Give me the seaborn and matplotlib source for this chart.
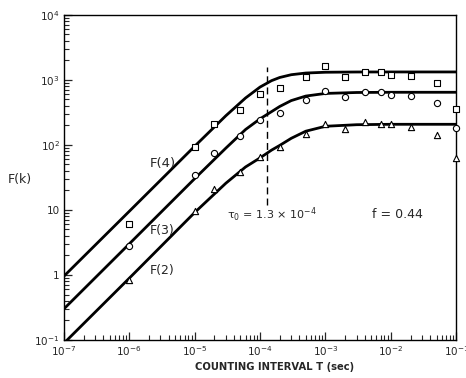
import matplotlib.pyplot as plt
import matplotlib.ticker as mticker
import seaborn as sns

# measured points, counting interval T (sec)
t_points = [1e-6, 1e-5, 2e-5, 5e-5, 1e-4, 2e-4, 5e-4, 1e-3, 2e-3, 4e-3, 7e-3, 1e-2, 2e-2, 5e-2, 1e-1]
f4_points = [6.0, 92, 210, 342, 603, 735, 1120, 1640, 1120, 1340, 1310, 1190, 1150, 890, 350]
f3_points = [2.8, 35, 76, 135, 240, 314, 490, 684, 535, 653, 645, 582, 573, 447, 181]
f2_points = [0.84, 9.7, 21, 38, 65, 92, 148, 208, 176, 226, 210, 208, 190, 143, 62]

# theoretical curves
t_curve = [1e-7, 1e-6, 1e-5, 3e-5, 6e-5, 1e-4, 1.5e-4, 2e-4, 3e-4, 5e-4, 1e-3, 3e-3, 1e-2, 1e-1]
f4_curve = [0.955, 9.5, 95, 280, 525, 773, 970, 1085, 1197, 1270, 1306, 1318, 1320, 1320]
f3_curve = [0.30, 3.0, 30.2, 89, 172, 251, 324, 389, 479, 562, 617, 638, 643, 643]
f2_curve = [0.089, 0.89, 9.1, 25.7, 45.7, 63, 83, 98, 126, 162, 193, 204, 207, 207]

x_ticks = [1e-7, 1e-6, 1e-5, 1e-4, 1e-3, 1e-2, 1e-1]
x_tick_labels = ["$10^{-7}$", "$10^{-6}$", "$10^{-5}$", "$10^{-4}$", "$10^{-3}$", "$10^{-2}$", "$10^{-1}$"]
y_ticks = [1e-1, 1, 10, 1e2, 1e3, 1e4]
y_tick_labels = ["$10^{-1}$", "1", "10", "$10^{2}$", "$10^{3}$", "$10^{4}$"]

tau0 = 1.3e-4

sns.set_style("ticks")
plt.rcParams["font.family"] = ["DejaVu Sans"]
plt.rcParams["mathtext.default"] = "regular"

fig = plt.figure(figsize=(4.66, 3.78), dpi=100)
ax = fig.add_axes([0.137, 0.1005, 0.842, 0.8605])

for vals in (f4_curve, f3_curve, f2_curve):
    sns.lineplot(x=t_curve, y=vals, color="black", linewidth=2.0, ax=ax)

for vals, mk, ms in ((f4_points, "s", 18), (f3_points, "o", 20), (f2_points, "^", 20)):
    sns.scatterplot(x=t_points, y=vals, marker=mk, s=ms, facecolor="white",
                    edgecolor="black", linewidth=0.8, ax=ax, clip_on=False, zorder=3)

ax.plot([tau0, tau0], [12, 1600], color="black", linestyle=(0, (5, 3)), linewidth=1.0)

ax.set_xscale("log")
ax.set_yscale("log")
ax.set_xlim(1e-7, 1e-1)
ax.set_ylim(1e-1, 1e4)

ax.xaxis.set_major_locator(mticker.FixedLocator(x_ticks))
ax.xaxis.set_major_formatter(mticker.FixedFormatter(x_tick_labels))
ax.yaxis.set_major_locator(mticker.FixedLocator(y_ticks))
ax.yaxis.set_major_formatter(mticker.FixedFormatter(y_tick_labels))
sub = [2, 3, 4, 5, 6, 7, 8, 9]
ax.xaxis.set_minor_locator(mticker.LogLocator(base=10, subs=sub, numticks=20))
ax.yaxis.set_minor_locator(mticker.LogLocator(base=10, subs=sub, numticks=20))
ax.xaxis.set_minor_formatter(mticker.NullFormatter())
ax.yaxis.set_minor_formatter(mticker.NullFormatter())

ax.tick_params(which="major", direction="in", length=6, width=0.9, labelsize=7.5, pad=3)
ax.tick_params(which="minor", direction="in", length=3.5, width=0.8)
for side in ax.spines.values():
    side.set_linewidth(1.0)
    side.set_color("black")

ax.text(2.07e-6, 52, "F(4)", fontsize=9.5, va="center", ha="left")
ax.text(2.07e-6, 4.75, "F(3)", fontsize=9, va="center", ha="left")
ax.text(2.07e-6, 1.19, "F(2)", fontsize=9, va="center", ha="left")
ax.text(3.1e-5, 8.4, r"$\tau_0$ = 1.3 × 10$^{-4}$", fontsize=8, va="center", ha="left")
ax.text(5.2e-3, 8.4, "f = 0.44", fontsize=9, va="center", ha="left")

ax.set_xlabel("COUNTING INTERVAL T (sec)", fontsize=7.2, fontweight="bold", va="center")
ax.xaxis.set_label_coords(0.538, -0.083)
ax.set_ylabel("F(k)", fontsize=9, rotation=0, va="center", ha="center")
ax.yaxis.set_label_coords(-0.112, 0.495)

fig.savefig("out.png", dpi=100)
